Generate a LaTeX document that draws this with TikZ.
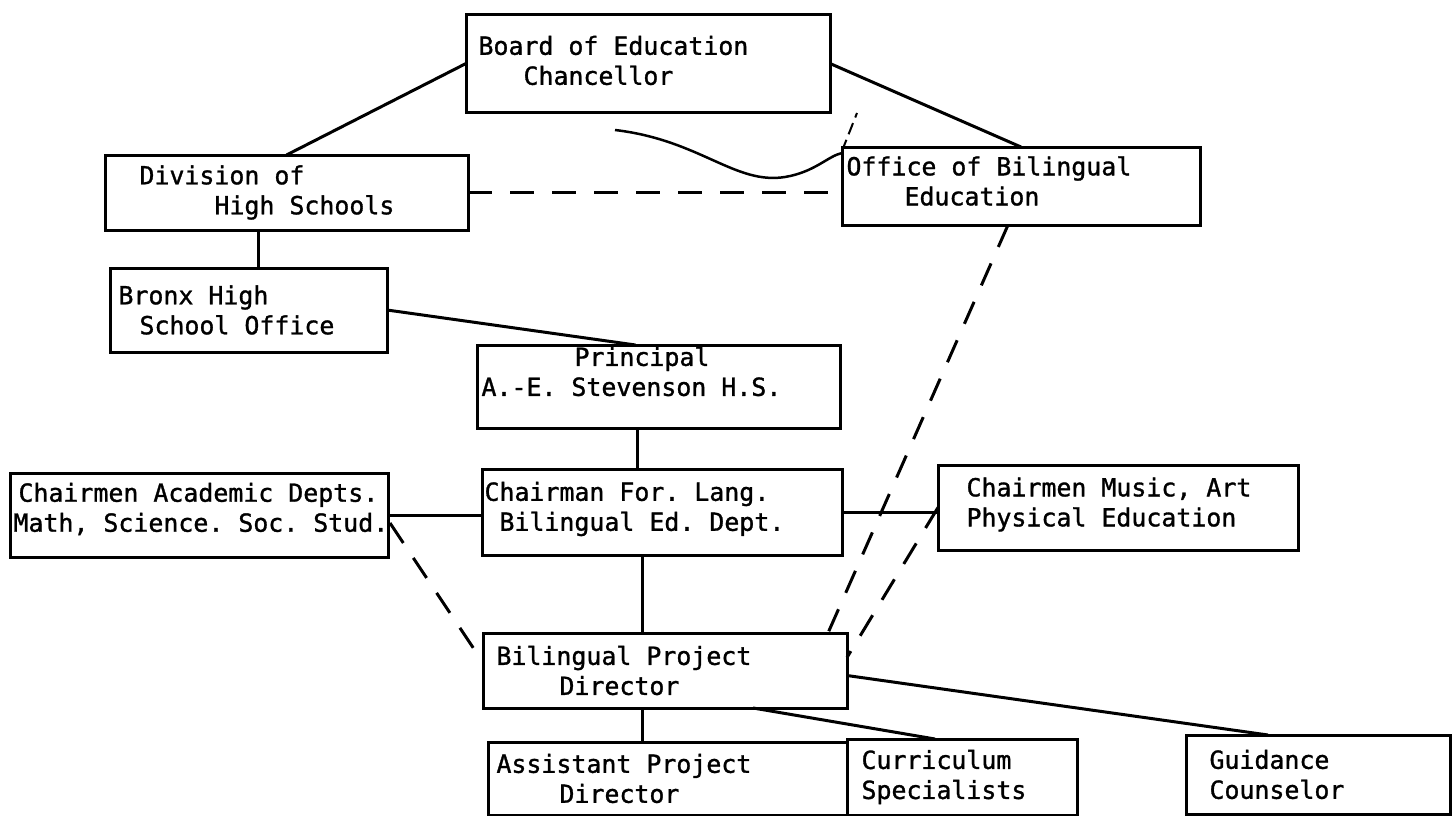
\documentclass[tikz,border=0pt]{standalone}
\usepackage{fontspec}
\newfontfamily\typer[FakeBold=1.2]{DejaVu Sans Mono}
\usetikzlibrary{positioning}

\begin{document}
\begin{tikzpicture}[x=1pt,y=-1pt,line width=3pt]
\tikzstyle{box}=[draw,line width=3pt,inner sep=0pt,outer sep=0pt,anchor=north west]
\tikzstyle{txt}=[font=\typer\fontsize{24.9}{30}\selectfont\frenchspacing,align=left,inner sep=0pt]
\tikzstyle{dotted link}=[line width=3pt,dash pattern=on 24pt off 18pt]
\tikzstyle{solid link}=[line width=3pt]
\useasboundingbox (0,0) rectangle (1452,816);

% boxes
\node[box,minimum width=364pt,minimum height=97pt] (board) at (466,15) {};
\node[box,minimum width=363pt,minimum height=75pt] (division) at (105,155) {};
\node[box,minimum width=358pt,minimum height=78pt] (office) at (842,147) {};
\node[box,minimum width=277pt,minimum height=84pt] (bronx) at (110,268) {};
\node[box,minimum width=363pt,minimum height=83pt] (principal) at (477,345) {};
\node[box,minimum width=378pt,minimum height=84pt] (academic) at (10,473) {};
\node[box,minimum width=360pt,minimum height=86pt] (chairman) at (482,469) {};
\node[box,minimum width=360pt,minimum height=85pt] (music) at (938,465) {};
\node[box,minimum width=364pt,minimum height=75pt] (director) at (483,633) {};
\node[box,minimum width=359pt,minimum height=73pt] (assistant) at (488,742) {};
\node[box,minimum width=230pt,minimum height=76pt] (curriculum) at (847,739) {};
\node[box,minimum width=264pt,minimum height=79pt] (guidance) at (1186,735) {};

% texts
\node[txt,right=11pt of board.west,yshift=3pt] (board-t) {Board of Education\\\hspace*{45pt}Chancellor};
\node[txt,right=33pt of division.west] (division-t) {Division of\\\hspace*{75pt}High Schools};
\node[txt,right=3pt of office.west,yshift=5pt] (office-t) {Office of Bilingual\\\hspace*{58pt}Education};
\node[txt,right=7pt of bronx.west] (bronx-t) {Bronx High\\\hspace*{21pt}School Office};
\node[txt,right=3pt of principal.west,yshift=15pt] (principal-t) {\hspace*{93pt}Principal\\A.-E. Stevenson H.S.};
\node[txt,right=2pt of academic.west,yshift=6pt] (academic-t) {\hspace*{5pt}Chairmen Academic Depts.\\Math, Science. Soc. Stud.};
\node[txt,right=1pt of chairman.west,yshift=3pt] (chairman-t) {Chairman For. Lang.\\\hspace*{15pt}Bilingual Ed. Dept.};
\node[txt,right=27pt of music.west,yshift=3pt] (music-t) {Chairmen Music, Art\\Physical Education};
\node[txt,right=12pt of director.west] (director-t) {Bilingual Project\\\hspace*{63pt}Director};
\node[txt,right=7pt of assistant.west] (assistant-t) {Assistant Project\\\hspace*{63pt}Director};
\node[txt,right=13pt of curriculum.west] (curriculum-t) {Curriculum\\Specialists};
\node[txt,right=22pt of guidance.west] (guidance-t) {Guidance\\Counselor};

% free ends of the wavy line and the small tick
\coordinate (wave) at (615,130);
\coordinate (tick) at (857,113);

\path
(board.west) edge[solid link] (division.north)
(board.east) edge[solid link] (office.north)
([xshift=-28.5pt]division.south) edge[solid link] ([xshift=9.5pt]bronx.north)
(bronx.east) edge[solid link] ([xshift=-23pt]principal.north)
([xshift=-21.5pt]principal.south) edge[solid link] ([xshift=-25pt]chairman.north)
(academic.east) edge[solid link] (academic.east -| chairman.west)
(chairman.east) edge[solid link] (chairman.east -| music.west)
([xshift=-20pt]chairman.south) edge[solid link] ([xshift=-23pt]director.north)
([xshift=-23pt]director.south) edge[solid link] ([xshift=-25.5pt]assistant.north)
([xshift=88pt]director.south) edge[solid link] ([xshift=-27pt]curriculum.north)
([yshift=-5pt]director.east) edge[solid link] ([xshift=-50pt]guidance.north);

\path
(division.east) edge[dotted link] (division.east -| office.west)
([xshift=2pt,yshift=-8pt]academic.east) edge[dotted link] ([xshift=-6pt,yshift=17pt]director.west)
([xshift=-13pt]office.south) edge[dotted link] ([xshift=-19pt]director.north east)
(music.west) edge[dotted link] ([yshift=13pt]director.east);

\draw[line width=2.5pt] (wave) .. controls (700,140) and (735,185) .. (785,177)
  .. controls (815,172) and (828,156) .. ([yshift=-6pt]office.north west);
\draw[line width=2pt,dash pattern=on 12pt off 6pt] ([yshift=-4pt]office.north west) -- (tick);
\end{tikzpicture}
\end{document}
